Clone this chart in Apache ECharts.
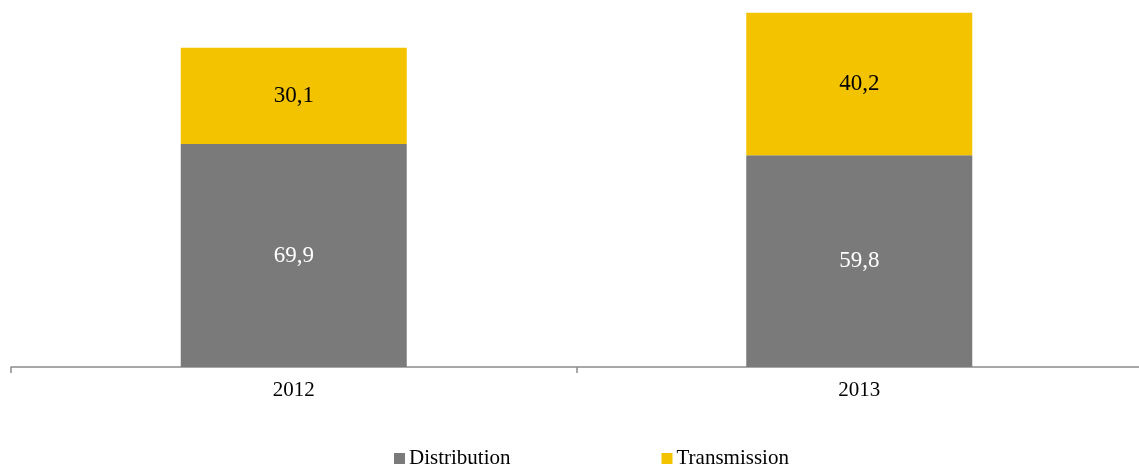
<!DOCTYPE html>
<html>
<head>
<meta charset="utf-8">
<script src="https://cdn.jsdelivr.net/npm/echarts@6/dist/echarts.min.js"></script>
<style>
  html, body { margin: 0; padding: 0; background: #ffffff; }
  #chart { width: 1139px; height: 465px; }
</style>
</head>
<body>
<div id="chart"></div>
<script>
// Years shown on the category axis
const years = ['2012', '2013'];
// Share of each segment in the yearly total, in percent
const distributionShare = [69.9, 59.8];
const transmissionShare = [30.1, 40.2];
// Relative size of each year's total (2012 = 100)
const yearTotals = [100, 111];

// Segment heights: share of the year's total
const distributionValues = distributionShare.map((s, i) => s * yearTotals[i] / 100);
const transmissionValues = transmissionShare.map((s, i) => s * yearTotals[i] / 100);

const fmt = v => v.toFixed(1).replace('.', ',');
const serif = '"Liberation Serif", "Times New Roman", serif';

const chart = echarts.init(document.getElementById('chart'));
chart.setOption({
  animation: false,
  textStyle: { fontFamily: serif },
  // the axis runs slightly past the right edge of the canvas
  grid: { left: 11, width: 1131, top: 0, bottom: 98, containLabel: false, outerBoundsMode: 'none' },
  legend: {
    left: 389,
    top: 443,
    itemWidth: 11,
    itemHeight: 11,
    itemGap: 151,
    icon: 'rect',
    textStyle: { fontFamily: serif, fontSize: 21, color: '#000000', padding: [0, 0, 0, -1] },
    data: ['Distribution', 'Transmission']
  },
  xAxis: {
    type: 'category',
    data: years,
    boundaryGap: true,
    axisLine: { show: true, lineStyle: { color: '#8c8c8c', width: 1.5 } },
    axisTick: { show: true, alignWithLabel: false, length: 6, lineStyle: { color: '#8c8c8c', width: 1.5 } },
    axisLabel: { fontFamily: serif, fontSize: 21, color: '#000000', margin: 13 }
  },
  yAxis: {
    type: 'value',
    min: 0,
    max: 115,
    show: false,
    splitLine: { show: false }
  },
  series: [
    {
      name: 'Distribution',
      type: 'bar',
      stack: 'total',
      barWidth: 226,
      data: distributionValues,
      itemStyle: { color: '#7a7a7a' },
      label: {
        show: true,
        position: 'inside',
        fontFamily: serif,
        fontSize: 23,
        color: '#ffffff',
        formatter: p => fmt(distributionShare[p.dataIndex])
      }
    },
    {
      name: 'Transmission',
      type: 'bar',
      stack: 'total',
      barWidth: 226,
      data: transmissionValues,
      itemStyle: { color: '#f4c300' },
      label: {
        show: true,
        position: 'inside',
        fontFamily: serif,
        fontSize: 23,
        color: '#000000',
        formatter: p => fmt(transmissionShare[p.dataIndex])
      }
    }
  ]
});
</script>
</body>
</html>
